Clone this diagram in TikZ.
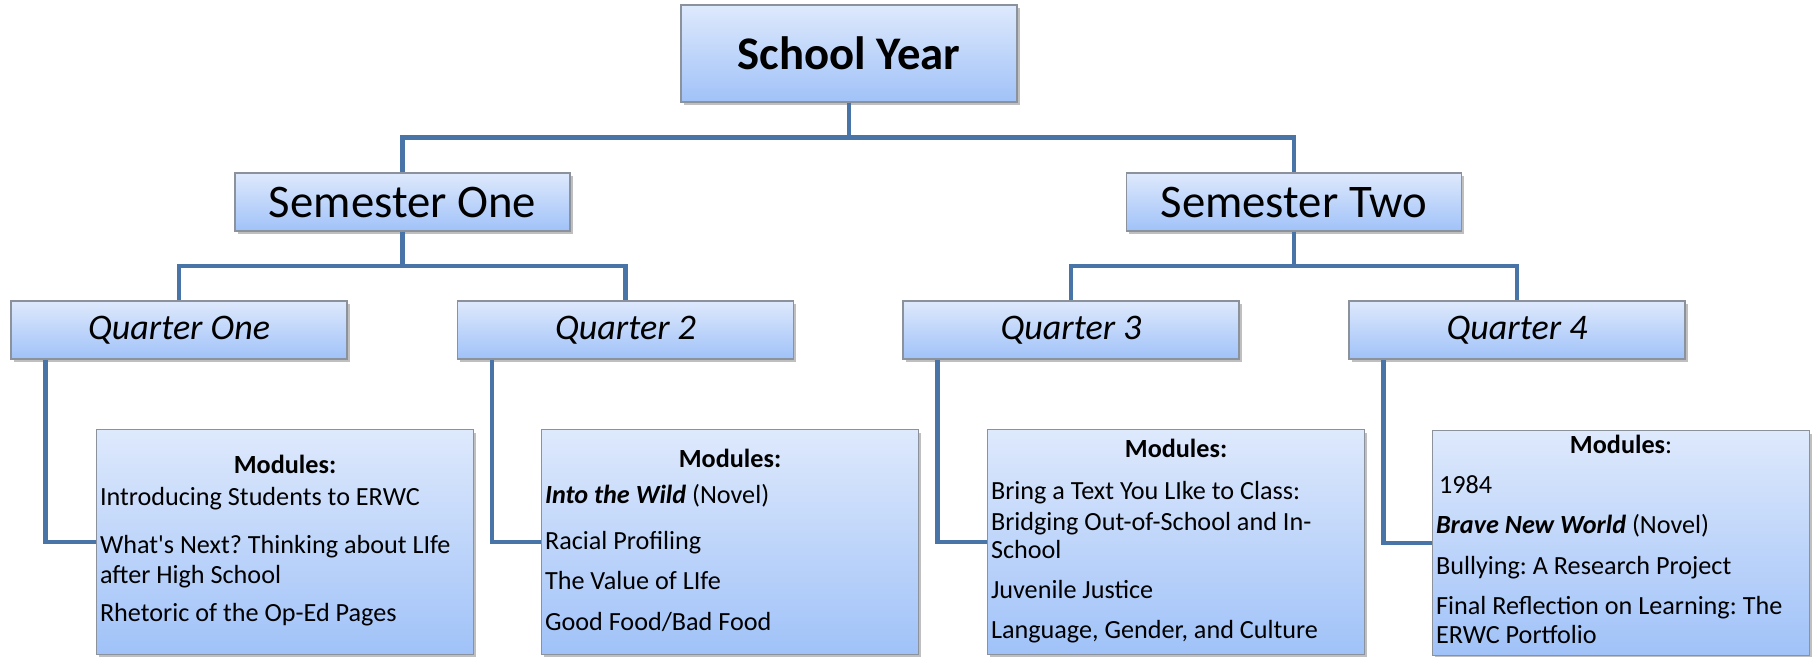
\documentclass[tikz,border=0pt]{standalone}
\usepackage{fontspec}
\setmainfont{Carlito}
\usepackage{tikz}
\usetikzlibrary{shapes,shadows,calc}
\frenchspacing
\definecolor{boxtop}{RGB}{222,233,252}
\definecolor{boxbot}{RGB}{160,194,248}
\definecolor{boxedge}{RGB}{140,146,156}
\definecolor{linkblue}{RGB}{72,116,168}
\tikzstyle{block} = [rectangle, draw=boxedge, line width=0.6pt, top color=boxtop, bottom color=boxbot, drop shadow={shadow xshift=0.05cm, shadow yshift=-0.06cm, fill=black, opacity=0.25}, text centered, inner sep=0pt]
\tikzstyle{year} = [block, minimum width=6.72cm, minimum height=1.94cm, font=\fontsize{26.6}{30}\selectfont\bfseries]
\tikzstyle{semester} = [block, minimum width=6.7cm, minimum height=1.16cm, font=\fontsize{26.6}{30}\selectfont]
\tikzstyle{quarter} = [block, minimum width=6.72cm, minimum height=1.16cm, font=\fontsize{20.5}{24}\selectfont\itshape]
\tikzstyle{modbox} = [block, anchor=north west, inner xsep=0.07cm, inner ysep=0pt, font=\fontsize{14.9}{17.07}\selectfont]
\tikzstyle{link} = [draw=linkblue, line width=0.085cm]
\newcommand{\modtext}[2]{\parbox[t][4.5cm][t]{7.4cm}{\raggedright\rule{0pt}{#1}#2}}

\begin{document}
\begin{tikzpicture}
\useasboundingbox (0,0) rectangle (36.28,-13.12);
\node [year] (year) at (16.98,-1.07) {School Year};
\node [semester] (semone) at (8.05,-4.04) {Semester One};
\node [semester] (semtwo) at (25.88,-4.04) {Semester Two};
\node [quarter] (qone) at (3.58,-6.6) {Quarter One};
\node [quarter] (qtwo) at (12.51,-6.6) {Quarter 2};
\node [quarter] (qthree) at (21.42,-6.6) {Quarter 3};
\node [quarter] (qfour) at (30.34,-6.6) {Quarter 4};
\node [modbox] (modone) at (1.92,-8.58) {\modtext{0.88cm}{\hfill\textbf{Modules:}\hfill\null\\[0.04cm]Introducing Students to ERWC\\[0.36cm]What\textquotesingle s Next? Thinking about LIfe\\after High School\\[0.16cm]Rhetoric of the Op-Ed Pages}};
\node [modbox] (modtwo) at (10.82,-8.58) {\modtext{0.76cm}{\hfill\textbf{Modules:}\hfill\null\\[0.12cm]\textbf{\textit{Into the Wild}} (Novel)\\[0.32cm]Racial Profiling\\[0.2cm]The Value of LIfe\\[0.22cm]Good Food/Bad Food}};
\node [modbox] (modthree) at (19.74,-8.58) {\modtext{0.56cm}{\hfill\textbf{Modules:}\hfill\null\\[0.24cm]Bring a Text You LIke to Class:\\[0.02cm]Bridging Out-of-School and In-\\[-0.04cm]School\\[0.2cm]Juvenile Justice\\[0.2cm]Language, Gender, and Culture}};
\node [modbox] (modfour) at (28.64,-8.6) {\modtext{0.46cm}{\hfill\textbf{Modules}:\hfill\null\\[0.2cm]\hspace*{0.06cm}1984\\[0.2cm]\textbf{\textit{Brave New World}} (Novel)\\[0.22cm]Bullying: A Research Project\\[0.2cm]Final Reflection on Learning: The\\[-0.02cm]ERWC Portfolio}};
\path [link] (year.south) |- ($(year.south)!.5!(semone.north)$) -| (semone.north);
\path [link] (year.south) |- ($(year.south)!.5!(semtwo.north)$) -| (semtwo.north);
\path [link] (semone.south) |- ($(semone.south)!.5!(qone.north)$) -| (qone.north);
\path [link] (semone.south) |- ($(semone.south)!.5!(qtwo.north)$) -| (qtwo.north);
\path [link] (semtwo.south) |- ($(semtwo.south)!.5!(qthree.north)$) -| (qthree.north);
\path [link] (semtwo.south) |- ($(semtwo.south)!.5!(qfour.north)$) -| (qfour.north);
\path [link] ([xshift=0.7cm]qone.south west) |- (modone.west);
\path [link] ([xshift=0.7cm]qtwo.south west) |- (modtwo.west);
\path [link] ([xshift=0.7cm]qthree.south west) |- (modthree.west);
\path [link] ([xshift=0.7cm]qfour.south west) |- (modfour.west);
\end{tikzpicture}
\end{document}
